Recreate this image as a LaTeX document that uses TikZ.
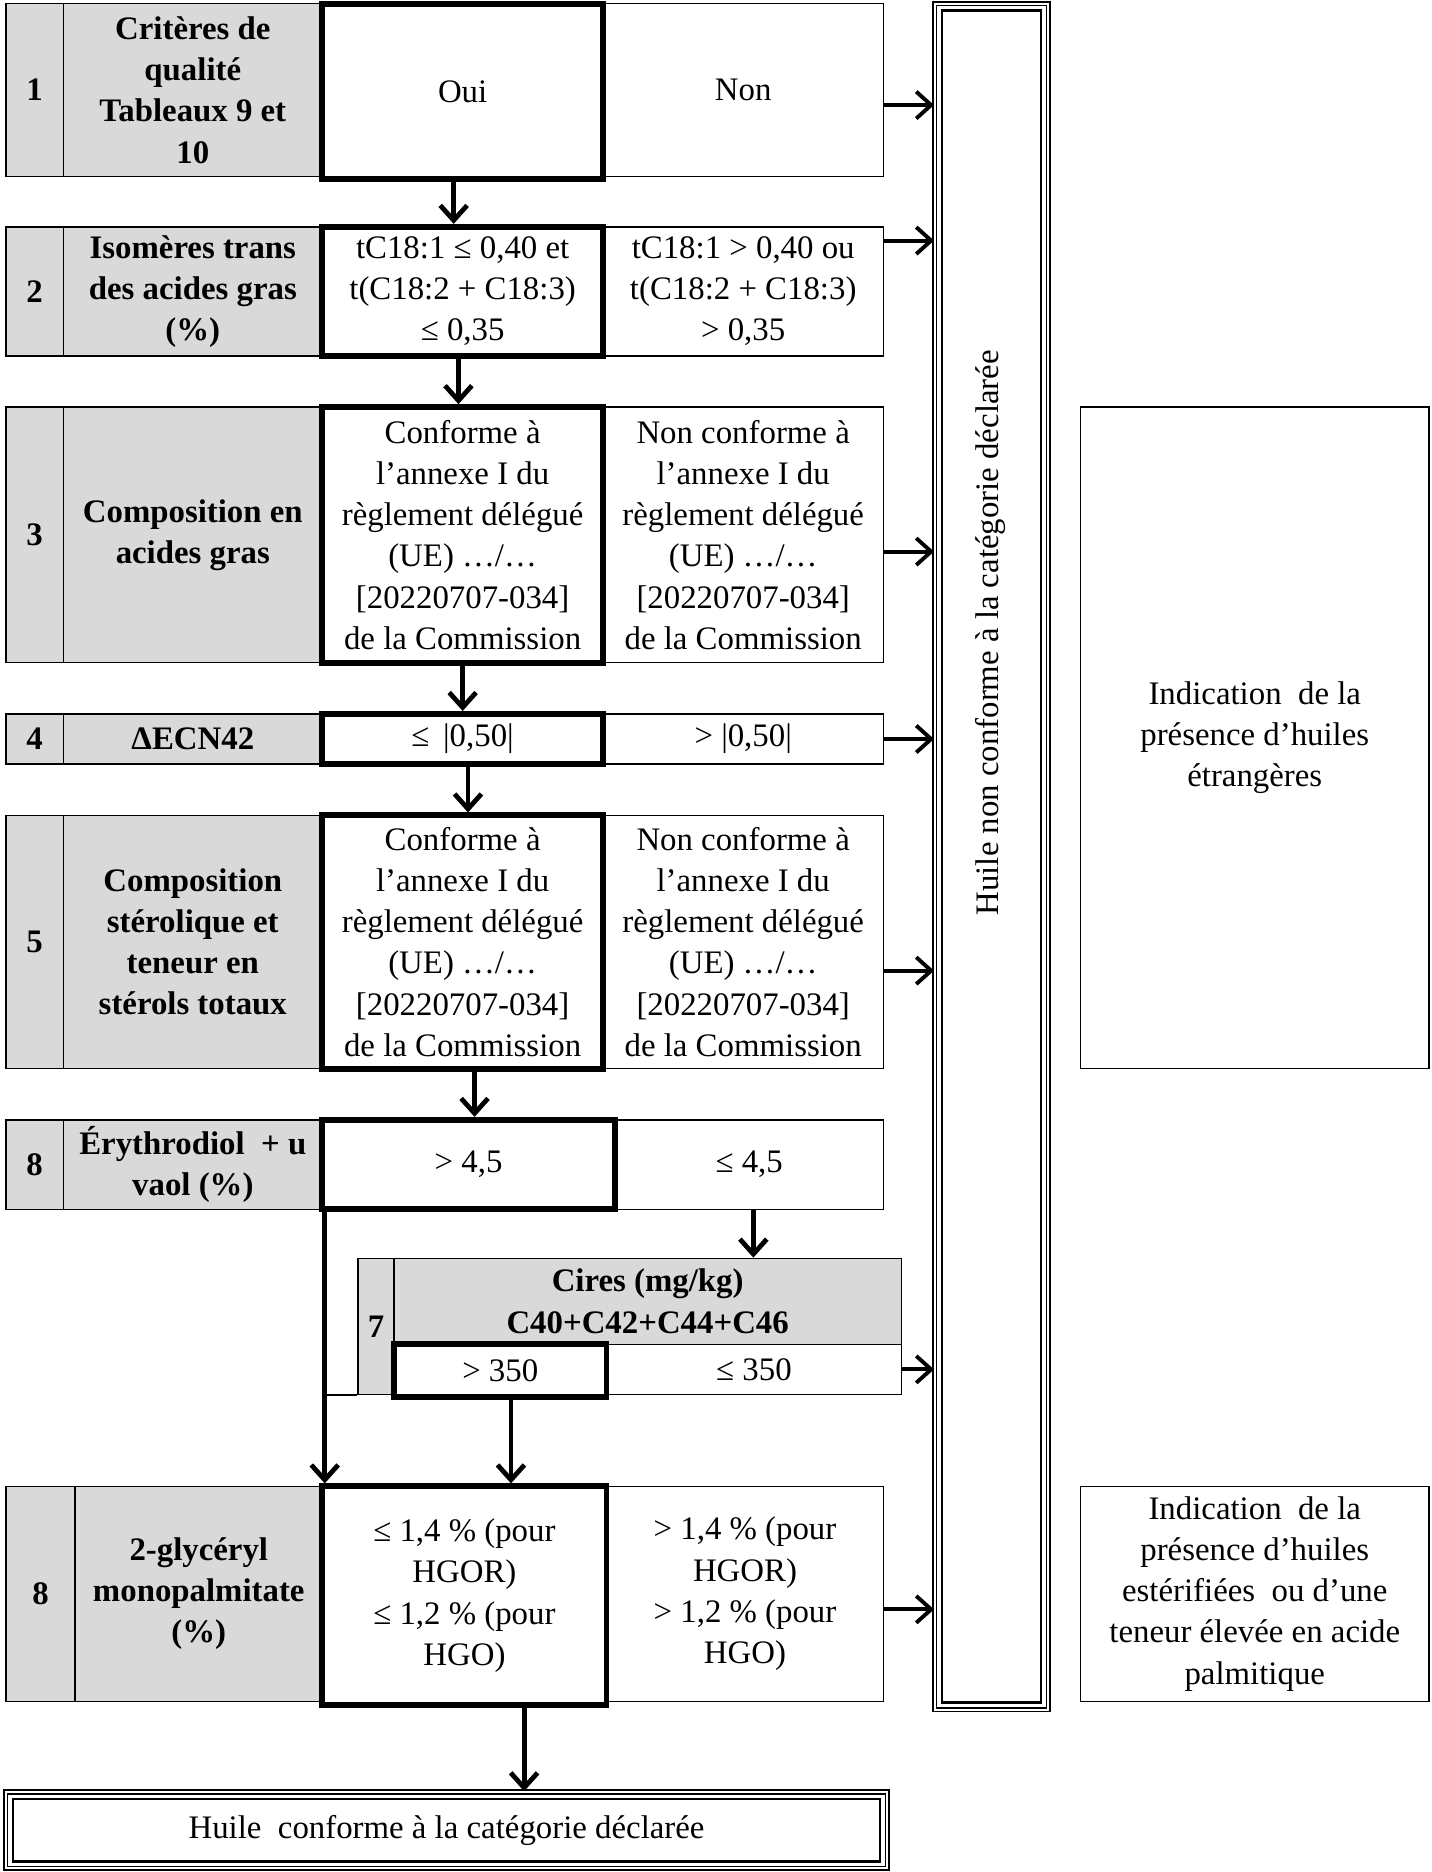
\documentclass[tikz,border=0pt]{standalone}
\usepackage{fontspec}
\setmainfont{Liberation Serif}
\usetikzlibrary{arrows.meta}
\definecolor{critgray}{HTML}{D9D9D9}

\begin{document}
\fontsize{11}{13.8}\selectfont
\begin{tikzpicture}[
    x=0.4pt, y=-0.4pt,
    cell/.style={rectangle, draw, line width=0.5pt, inner sep=0pt, align=center},
    numcell/.style={cell, fill=critgray, font=\bfseries, minimum width=19.2pt},
    crit/.style={cell, fill=critgray, font=\bfseries, minimum width=86.8pt},
    nocell/.style={cell, minimum width=94pt},
    okbox/.style={cell, line width=2pt, minimum width=94pt},
    result/.style={cell, double, double distance=0.7pt},
    flowarrow/.style={-{Straight Barb[length=5pt,width=9pt]}, line width=1.6pt},
    sidearrow/.style={-{Straight Barb[length=5pt,width=9pt]}, line width=1.3pt}
]
    \useasboundingbox (0,0) rectangle (1199,1568);

    % 1 - criteres de qualite
    \node[numcell, minimum height=58pt] (n1) at (29,75.5) {1};
    \node[crit, minimum height=58pt] (c1) at (161.5,75.5) {Critères de\\qualité\\Tableaux 9 et\\10};
    \node[nocell, minimum height=58pt] (no1) at (622.5,75.5) {Non};
    \node[okbox, minimum height=58.8pt] (ok1) at (387.5,76.5) {Oui};

    % 2 - isomeres trans
    \node[numcell, minimum height=43.2pt] (n2) at (29,244) {2};
    \node[crit, minimum height=43.2pt] (c2) at (161.5,244) {Isomères trans\\des acides gras\\(\%)};
    \node[nocell, minimum height=43.2pt] (no2) at (622.5,244) {tC18:1 > 0,40 ou\\t(C18:2 + C18:3)\\> 0,35};
    \node[okbox, minimum height=43.2pt] (ok2) at (387.5,244) {tC18:1 ≤ 0,40 et\\t(C18:2 + C18:3)\\≤ 0,35};

    % 3 - acides gras
    \node[numcell, minimum height=85.6pt] (n3) at (29,448) {3};
    \node[crit, minimum height=85.6pt] (c3) at (161.5,448) {Composition en\\acides gras};
    \node[nocell, minimum height=85.6pt] (no3) at (622.5,448) {Non conforme à\\l’annexe I du\\règlement délégué\\(UE) …/…\\{[20220707-034]}\\de la Commission};
    \node[okbox, minimum height=85.6pt] (ok3) at (387.5,448) {Conforme à\\l’annexe I du\\règlement délégué\\(UE) …/…\\{[20220707-034]}\\de la Commission};

    % 4 - ECN42
    \node[numcell, minimum height=16.8pt] (n4) at (29,619) {4};
    \node[crit, minimum height=16.8pt] (c4) at (161.5,619) {ΔECN42};
    \node[nocell, minimum height=16.8pt] (no4) at (622.5,619) {> |0,50|};
    \node[okbox, minimum height=16.8pt] (ok4) at (387.5,619) {≤ \,|0,50|};

    % 5 - sterols
    \node[numcell, minimum height=84.8pt] (n5) at (29,789) {5};
    \node[crit, minimum height=84.8pt] (c5) at (161.5,789) {Composition\\stérolique et\\teneur en\\stérols totaux};
    \node[nocell, minimum height=84.8pt] (no5) at (622.5,789) {Non conforme à\\l’annexe I du\\règlement délégué\\(UE) …/…\\{[20220707-034]}\\de la Commission};
    \node[okbox, minimum height=84.8pt] (ok5) at (387.5,789) {Conforme à\\l’annexe I du\\règlement délégué\\(UE) …/…\\{[20220707-034]}\\de la Commission};

    % 8 - erythrodiol + uvaol
    \node[numcell, minimum height=30pt] (n6) at (29,975.5) {8};
    \node[crit, minimum height=30pt] (c6) at (161.5,975.5) {Érythrodiol \ + u\\vaol (\%)};
    \node[nocell, minimum height=30pt, minimum width=90pt] (no6) at (627.5,975.5) {≤ 4,5};
    \node[okbox, minimum height=30pt, minimum width=98pt] (ok6) at (392.5,975.5) {> 4,5};

    % 7 - cires
    \node[numcell, minimum height=45.6pt, minimum width=12pt] (n7) at (315,1111) {7};
    \node[crit, minimum height=28.8pt, minimum width=170pt] (c7) at (542.5,1090) {Cires (mg/kg)\\C40+C42+C44+C46};
    \node[nocell, minimum height=16.8pt, minimum width=98.8pt] (no7) at (631.5,1147) {≤ 350};
    \node[okbox, minimum height=17.6pt, minimum width=71.2pt] (ok7) at (419,1148) {> 350};

    % 8 - 2-glyceryl monopalmitate
    \node[numcell, minimum height=72pt, minimum width=23.2pt] (n8) at (34,1335) {8};
    \node[crit, minimum height=72pt, minimum width=82.8pt] (c8) at (166.5,1335) {2-glycéryl\\monopalmitate\\(\%)};
    \node[nocell, minimum height=72pt, minimum width=92.8pt] (no8) at (624,1335) {> 1,4 \% (pour\\HGOR)\\> 1,2 \% (pour\\HGO)};
    \node[okbox, minimum height=73.2pt, minimum width=95.2pt] (ok8) at (389,1336.5) {≤ 1,4 \% (pour\\HGOR)\\≤ 1,2 \% (pour\\HGO)};

    % resultats
    \node[result, minimum width=295.2pt, minimum height=25.6pt] (conf) at (374,1533) {Huile \ conforme à la catégorie déclarée};
    \node[result, minimum width=38pt, minimum height=571.6pt] (tall) at (830.5,717.5) {};
    \node[rotate=90] (nctext) at (830,530) {Huile non conforme à la catégorie déclarée};
    \draw[line width=0.8pt] ([shift={(2.6pt,-2.6pt)}]conf.north west) rectangle ([shift={(-2.6pt,2.6pt)}]conf.south east);
    \draw[line width=0.8pt] ([shift={(2.6pt,-2.6pt)}]tall.north west) rectangle ([shift={(-2.6pt,2.6pt)}]tall.south east);
    \node[cell, minimum width=116.8pt, minimum height=221.6pt] (ind1) at (1051,618) {Indication \ de la\\présence d’huiles\\étrangères};
    \node[cell, minimum width=116.8pt, minimum height=72pt] (ind2) at (1051,1335) {Indication \ de la\\présence d’huiles\\estérifiées \ ou d’une\\teneur élevée en acide\\palmitique};

    % fleches
    \draw[flowarrow] ([xshift=-3pt]ok1.south) -- ([xshift=-3pt]ok2.north);
    \draw[flowarrow] ([xshift=-1.4pt]ok2.south) -- ([xshift=-1.4pt]ok3.north);
    \draw[flowarrow] (ok3.south) -- (ok4.north);
    \draw[flowarrow] ([xshift=1.8pt]ok4.south) -- ([xshift=1.8pt]ok5.north);
    \draw[flowarrow] ([xshift=4pt]ok5.south) -- ([xshift=2pt]ok6.north);
    \coordinate (d6) at ([xshift=1.4pt]no6.south);
    \draw[flowarrow] (d6) -- (d6 |- c7.north);
    \coordinate (d6l) at ([xshift=1.8pt]ok6.south west);
    \draw[flowarrow] (d6l) -- (d6l |- ok8.north);
    \draw[line width=0.5pt] (n7.south west) -- (n7.south west -| d6l);
    \coordinate (d7) at ([xshift=3.6pt]ok7.south);
    \draw[flowarrow] (d7) -- (d7 |- ok8.north);
    \coordinate (d8) at ([xshift=20pt]ok8.south);
    \draw[flowarrow] (d8) -- (d8 |- conf.north);
    \foreach \row/\dy in {1/-5pt, 2/17pt, 3/-5.6pt, 4/0pt, 5/-9.6pt, 7/0pt, 8/-5.2pt}{
        \coordinate (s\row) at ([yshift=\dy]no\row.east);
        \draw[sidearrow] (s\row) -- (s\row -| tall.west);
    }
\end{tikzpicture}
\end{document}
